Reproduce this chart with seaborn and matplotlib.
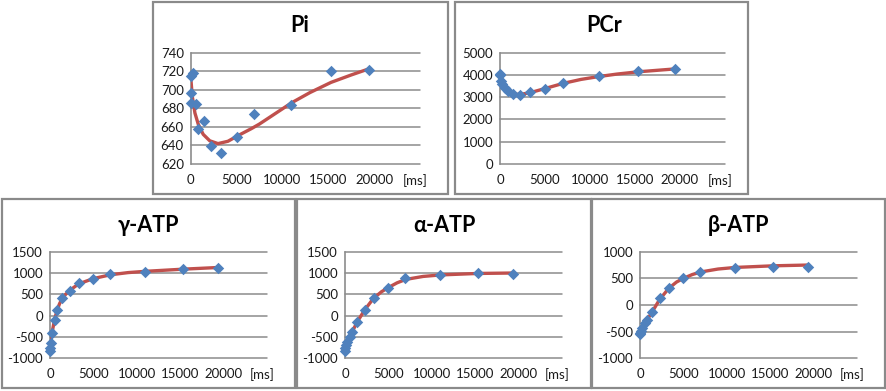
import numpy as np
import pandas as pd
import matplotlib
matplotlib.use("Agg")
import matplotlib.pyplot as plt
import seaborn as sns
from matplotlib.patches import Rectangle

sns.set_style("white")
plt.rcParams["font.family"] = ["Lato", "DejaVu Sans"]

# ---------------- data ----------------
t_obs = [0, 20, 60, 250, 550, 850, 1400, 2250, 3300, 5000, 6950, 10950, 15300, 19400]

pi_obs = [686, 697, 715, 718, 685, 658, 666, 639, 632, 649, 674, 684, 720, 721]
pcr_obs = [4050, 3990, 3750, 3580, 3420, 3270, 3150, 3120, 3220, 3370, 3630, 3960, 4190, 4260]
gatp_obs = [-820, -760, -630, -410, -104, 138, 425, 590, 765, 860, 970, 1030, 1090, 1125]
aatp_obs = [-820, -766, -680, -610, -494, -377, -142, 132, 406, 640, 875, 953, 992, 968]
batp_obs = [-545, -520, -490, -440, -345, -285, -125, 125, 312, 500, 625, 700, 718, 715]

pi_fit_t = [0, 170, 460, 820, 1360, 2080, 2980, 4060, 5140, 6590, 7480, 11000, 13000, 15300, 17500, 19400]
pi_fit = [714, 693, 675, 663, 652, 645, 642, 644.5, 650.5, 658, 663, 686, 697, 708, 716, 722.5]

pcr_fit_t = [0, 150, 400, 800, 1300, 1900, 2600, 3400, 5000, 7000, 9000, 11000, 13000, 15300, 17500, 19400]
pcr_fit = [4000, 3700, 3450, 3280, 3170, 3130, 3150, 3210, 3390, 3620, 3800, 3930, 4040, 4140, 4210, 4270]

gatp_fit_t = [0, 60, 150, 300, 500, 800, 1100, 1400, 1800, 2250, 3300, 5000, 7000, 9000, 11000, 15300, 19400]
gatp_fit = [-850, -700, -520, -330, -120, 120, 280, 400, 500, 590, 745, 870, 960, 1010, 1040, 1090, 1130]

aatp_fit_t = [0, 250, 550, 850, 1400, 2250, 3300, 4200, 5000, 6000, 7000, 9000, 11000, 15300, 19400]
aatp_fit = [-790, -640, -500, -370, -150, 130, 410, 560, 660, 770, 850, 920, 955, 990, 1000]

batp_fit_t = [0, 250, 550, 850, 1400, 2250, 3300, 4200, 5000, 6000, 7000, 9000, 11000, 15300, 19400]
batp_fit = [-540, -450, -360, -270, -130, 100, 310, 430, 500, 570, 620, 675, 705, 735, 750]

titles = ["Pi", "PCr", "γ-ATP", "α-ATP", "β-ATP"]
x_ticks = [0, 5000, 10000, 15000, 20000, 24500]
x_ticklabels = ["0", "5000", "10000", "15000", "20000", "[ms]"]
pi_yticks = [620, 640, 660, 680, 700, 720, 740]
pcr_yticks = [0, 1000, 2000, 3000, 4000, 5000]
ga_yticks = [-1000, -500, 0, 500, 1000, 1500]
b_yticks = [-1000, -500, 0, 500, 1000]

# ---------------- layout (pixels) ----------------
W, H = 887, 391
fig = plt.figure(figsize=(W / 100, H / 100), dpi=100)
fig.patch.set_facecolor("white")

panels = [
    # title, obs, fit_t, fit, yticks, box(l,r,t,b), plot(l,r,t,b), title x, title y
    (titles[0], pi_obs, pi_fit_t, pi_fit, pi_yticks, (153, 448, 2, 194), (190.7, 420, 52.7, 164), 300, 26),
    (titles[1], pcr_obs, pcr_fit_t, pcr_fit, pcr_yticks, (455, 748, 2, 194), (500, 725, 52.7, 164), 604, 26),
    (titles[2], gatp_obs, gatp_fit_t, gatp_fit, ga_yticks, (2, 295, 199, 388), (50, 267, 251.7, 358.3), 148, 225),
    (titles[3], aatp_obs, aatp_fit_t, aatp_fit, ga_yticks, (297, 591, 199, 388), (345, 562, 251.7, 358.3), 444, 225),
    (titles[4], batp_obs, batp_fit_t, batp_fit, b_yticks, (592, 885, 199, 388), (640, 857, 251.7, 358.3), 739, 225),
]

grid_c = "#8c8c8c"
box_c = "#8a8a8a"
line_c = "#C0504D"
mark_c = "#4F81BD"

for title, obs, ft, fv, yt, box, pa, tx, ty in panels:
    bl, br, bt, bb = box
    fig.add_artist(Rectangle((bl / W, 1 - bb / H), (br - bl) / W, (bb - bt) / H,
                             transform=fig.transFigure, fill=False, ec=box_c, lw=1.6))
    pl, pr, pt, pb = pa
    ax = fig.add_axes([pl / W, 1 - pb / H, (pr - pl) / W, (pb - pt) / H])
    ax.set_facecolor("white")
    df_fit = pd.DataFrame({"t": ft, "v": fv})
    df_obs = pd.DataFrame({"t": t_obs, "v": obs})
    sns.lineplot(data=df_fit, x="t", y="v", ax=ax, color=line_c, lw=2.4,
                 sort=False, estimator=None, zorder=3)
    sns.scatterplot(data=df_obs, x="t", y="v", ax=ax, marker="D", s=34,
                    color=mark_c, linewidth=0, zorder=4, clip_on=False)
    ax.set_xlim(0, 25000)
    ax.set_ylim(yt[0], yt[-1])
    ax.set_yticks(yt)
    ax.set_yticklabels([str(v) for v in yt])
    ax.set_xticks(x_ticks)
    ax.set_xticklabels(x_ticklabels)
    ax.set_xlabel("")
    ax.set_ylabel("")
    ax.grid(axis="y", color=grid_c, lw=1.1)
    ax.grid(axis="x", visible=False)
    for gl in ax.get_ygridlines():
        gl.set_clip_on(False)
    ax.set_axisbelow(True)
    for s in ["top", "right", "bottom"]:
        ax.spines[s].set_visible(False)
    ax.spines["left"].set_color(grid_c)
    ax.spines["left"].set_linewidth(1.2)
    ax.tick_params(axis="y", length=0, labelsize=9.5, pad=5, labelcolor="#1a1a1a")
    ax.tick_params(axis="x", length=0, labelsize=9.5, pad=7, labelcolor="#1a1a1a")
    fig.text(tx / W, 1 - ty / H, title, ha="center", va="center",
             fontsize=15.5, fontweight="bold", color="black")

fig.savefig("out.png", dpi=100, facecolor="white")
